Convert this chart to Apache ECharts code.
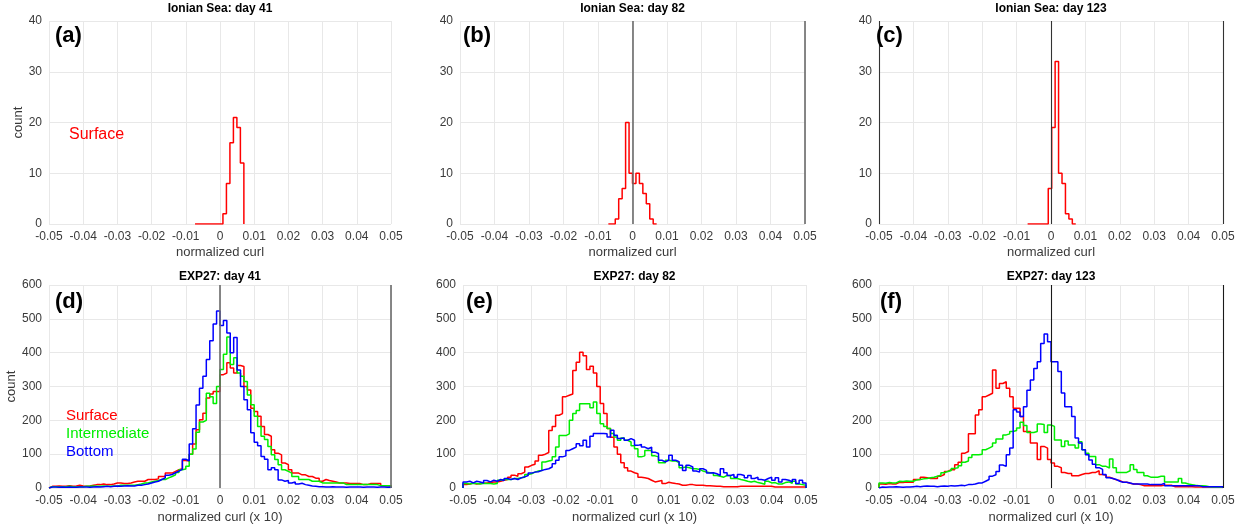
<!DOCTYPE html>
<html>
<head>
<meta charset="utf-8">
<script src="https://cdn.jsdelivr.net/npm/echarts@6/dist/echarts.min.js"></script>
<style>
  html, body { margin: 0; padding: 0; background: #fff; }
  #main { width: 1243px; height: 531px; }
</style>
</head>
<body>
<div id="main"></div>
<script>
// histogram counts, one value per bin (bins)
// top row: Ionian Sea, narrow range
var ionian41Start = -0.0073, ionian41Width = 0.00102;
var ionian41 = [0, 0, 0, 0, 0, 0, 0, 0, 2, 8, 16, 21, 19, 12];
var ionian82Start = -0.0070, ionian82Width = 0.001;
var ionian82 = [0, 0, 1, 5, 7, 20, 10, 8, 10, 8, 6, 4, 1, 0];
var ionian123Start = -0.0068, ionian123Width = 0.001;
var ionian123 = [0, 0, 0, 0, 0, 0, 7, 19, 32, 10, 8, 2, 1, 0];

// bottom row: EXP27, 100 bins of 0.001 from -0.05 to 0.05
var expStart = -0.05, expWidth = 0.001;

var d41Surface = [5,5,6,5,5,7,5,6,8,6, 5,6,8,10,10,12,10,10,12,15, 15,13,13,15,18,20,20,20,25,25,
  25,27,34,34,44,44,49,54,57,81, 80,100,130,172,202,221,266,278,285,285,
  335,340,370,355,340,362,359,300,290,236, 226,212,182,158,153,113,103,98,74,69,
  54,44,44,39,39,34,34,29,29,20, 25,22,20,18,15,15,15,13,13,13, 13,10,10,13,13,13,13,7,7,7];
var d41Inter = [4,4,3,4,4,5,4,3,4,4, 5,5,6,5,5,6,5,5,6,5, 8,8,8,8,8,10,12,15,15,18,
  20,22,25,25,30,34,39,46,54,56, 64,100,115,165,195,200,280,270,250,300,
  350,395,446,365,385,340,330,315,275,246, 212,182,153,143,123,98,84,69,54,49,
  44,34,34,25,25,25,20,20,20,15, 15,15,15,15,15,15,10,10,10,10, 10,10,10,10,10,10,7,7,7,7];
var d41Bottom = [3,3,2,3,2,3,2,2,3,3, 3,2,3,4,3,4,5,4,5,6, 5,6,7,6,6,8,8,10,12,15,
  18,20,25,30,38,40,45,50,55,85, 80,130,175,245,295,330,380,435,485,523,
  480,495,458,400,445,349,300,261,231,163, 135,125,93,85,54,60,54,24,20,22,
  15,18,12,14,10,8,6,5,4,4, 3,3,4,3,3,3,2,3,3,3, 3,2,3,3,3,2,3,3,2,3];

var d82Surface = [10,12,15,12,13,14,15,16,18,18, 20,23,25,32,38,35,42,47,62,67,
  70,80,97,100,105,170,182,215,220,270, 274,278,347,372,401,391,350,360,340,300,
  250,220,176,150,121,100,75,60,50,45,
  42,32,30,28,23,18,20,22,13,17, 15,13,12,8,8,10,10,8,8,8, 7,7,6,5,5,4,4,4,4,4,
  5,5,5,5,5,5,5,5,5,5, 3,3,3,3,3,3,3,3,3,3];
var d82Inter = [13,12,14,13,12,14,13,13,12,13, 23,25,25,25,28,28,30,32,40,42,
  47,50,52,77,80,82,92,121,155,155, 160,200,220,229,249,249,249,237,254,220,
  190,182,176,161,151,141,148,141,136,125,
  116,92,95,111,111,95,92,75,75,82, 80,80,75,60,62,60,57,57,55,50, 47,45,45,37,35,32,37,37,28,28,
  25,23,20,18,20,16,14,11,20,15, 16,12,12,16,18,14,20,12,10,8];
var d82Bottom = [18,20,15,20,18,15,22,18,23,20, 25,22,28,25,28,25,30,33,37,44,
  47,48,52,55,57,62,72,82,92,95, 111,116,121,131,125,141,121,153,161,161,
  161,160,151,171,156,146,148,141,146,141,
  126,129,121,116,121,106,102,82,77,82, 97,82,78,67,52,67,62,50,47,57, 52,44,45,42,37,57,45,37,40,32,
  40,37,30,37,28,32,25,23,28,32, 23,30,18,25,23,18,25,13,23,15];

var d123Surface = [12,11,13,12,12,17,16,18,17,17, 25,25,32,30,28,28,28,35,40,49,
  54,54,69,76,103,108,160,160,216,231, 270,275,280,349,295,309,314,295,270,236,
  236,211,167,167,133,133,84,123,118,84,
  74,64,60,46,43,43,36,36,40,43, 43,46,46,51,40,38,32,28,24,22, 17,17,14,12,12,10,7,7,7,7,
  7,7,8,8,8,4,4,4,4,4, 4,3,3,3,3,3,3,3,3,3];
var d123Inter = [15,14,16,15,15,20,19,21,20,20, 24,25,27,28,30,32,35,38,45,49,
  52,58,60,66,76,80,90,98,98,100, 113,118,123,133,145,145,157,160,167,170,
  177,194,185,164,164,167,189,188,164,186,
  182,142,142,123,139,127,127,118,137,113, 103,93,93,69,64,64,59,86,60,46, 46,46,51,69,55,46,46,36,32,32,
  32,35,35,18,18,18,18,28,15,12, 10,8,7,7,6,4,3,3,3,3];
var d123Bottom = [3,2,3,3,4,3,2,3,3,4, 5,4,5,6,5,5,4,5,6,5, 7,6,7,8,7,10,10,12,15,15,
  20,25,35,39,49,68,64,98,118,231, 225,211,240,289,319,353,373,427,455,432,
  373,373,344,281,240,240,211,148,133,113, 98,83,70,60,55,40,30,28,25,20, 17,17,15,12,12,12,12,12,10,10,
  10,10,14,7,7,7,7,7,7,7, 7,7,7,4,4,4,4,4,4,4];

var xTicks = [-0.05, 0.05, 0.01];
var topTitles = ['Ionian Sea: day 41', 'Ionian Sea: day 82', 'Ionian Sea: day 123'];
var bottomTitles = ['EXP27: day 41', 'EXP27: day 82', 'EXP27: day 123'];
var panelLetters = ['(a)', '(b)', '(c)', '(d)', '(e)', '(f)'];
var layerNames = ['Surface', 'Intermediate', 'Bottom'];
var layerColors = ['#ff0000', '#00ee00', '#0000ff'];

var FONT = '"Liberation Sans", Arial, Helvetica, sans-serif';

// stairs outline of a histogram: left edges + counts, closed to zero at both ends
function stairs(start, width, counts) {
    var pts = [[start, 0]];
    for (var i = 0; i < counts.length; i++) {
        pts.push([start + i * width, counts[i]]);
    }
    var end = start + counts.length * width;
    pts.push([end, counts[counts.length - 1]]);
    pts.push([end, 0]);
    return pts;
}

var grids = [
    {left: 49, top: 21, width: 342, height: 203},
    {left: 460, top: 21, width: 345, height: 203},
    {left: 879, top: 21, width: 344, height: 203},
    {left: 49, top: 285, width: 342, height: 203},
    {left: 463, top: 285, width: 343, height: 203},
    {left: 879, top: 285, width: 344, height: 203}
];
// dark reference lines per panel: [x positions, colour, width]
var refLines = [
    null,
    [[0, 0.05], '#6a6a6a', 1.6],
    [[-0.05, 0, 0.05], '#333333', 1.1],
    [[0, 0.05], '#6a6a6a', 1.6],
    null,
    [[0, 0.05], '#1a1a1a', 1.1]
];

var xAxes = [], yAxes = [], series = [], graphics = [];
grids.forEach(function (g, i) {
    g.outerBoundsMode = 'none';
    var bottomRow = i >= 3;
    xAxes.push({
        type: 'value', gridIndex: i,
        min: xTicks[0], max: xTicks[1], interval: xTicks[2],
        name: bottomRow ? 'normalized curl (x 10)' : 'normalized curl',
        nameLocation: 'middle', nameGap: bottomRow ? 23 : 22,
        nameTextStyle: {color: '#3a3a3a', fontSize: 13, fontFamily: FONT},
        axisLine: {show: false},
        axisTick: {show: false},
        axisLabel: {
            color: '#3a3a3a', fontSize: 12, fontFamily: FONT, margin: 7,
            showMinLabel: true, showMaxLabel: true, hideOverlap: false,
            formatter: function (v) { return String(Math.round(v * 100) / 100); }
        },
        splitLine: {show: true, lineStyle: {color: '#e8e8e8', width: 1}}
    });
    yAxes.push({
        type: 'value', gridIndex: i,
        min: 0, max: bottomRow ? 600 : 40, interval: bottomRow ? 100 : 10,
        name: (i % 3 === 0) ? 'count' : '',
        nameLocation: 'middle', nameGap: 24, nameRotate: 90,
        nameTextStyle: {color: '#3a3a3a', fontSize: 13, fontFamily: FONT},
        axisLine: {show: false},
        axisTick: {show: false},
        axisLabel: {color: '#3a3a3a', fontSize: 12, fontFamily: FONT, margin: 7},
        splitLine: {show: true, lineStyle: {color: '#e8e8e8', width: 1}}
    });

    // panel title
    graphics.push({
        type: 'text',
        x: g.left + g.width / 2, y: bottomRow ? 277 : 9,
        style: {
            text: bottomRow ? bottomTitles[i - 3] : topTitles[i],
            font: 'bold 12px ' + FONT, fill: '#000',
            align: 'center', verticalAlign: 'middle',
            textAlign: 'center', textVerticalAlign: 'middle'
        }
    });
});

var letterPos = [[55, 36], [463, 36], [876, 36], [55, 302], [466, 302], [880, 302]];
letterPos.forEach(function (p, i) {
    graphics.push({
        type: 'text', x: p[0], y: p[1], z: 10,
        style: {
            text: panelLetters[i], font: 'bold 22px ' + FONT, fill: '#000',
            align: 'left', verticalAlign: 'middle',
            textAlign: 'left', textVerticalAlign: 'middle'
        }
    });
});

// in-plot legend labels
graphics.push({
    type: 'text', x: 69, y: 135, z: 10,
    style: {text: 'Surface', font: '16px ' + FONT, fill: layerColors[0],
        align: 'left', verticalAlign: 'middle', textAlign: 'left', textVerticalAlign: 'middle'}
});
layerNames.forEach(function (name, k) {
    graphics.push({
        type: 'text', x: 66, y: 416 + k * 18, z: 10,
        style: {text: name, font: '15px ' + FONT, fill: layerColors[k],
            align: 'left', verticalAlign: 'middle', textAlign: 'left', textVerticalAlign: 'middle'}
    });
});

function histSeries(idx, name, color, pts) {
    return {
        type: 'line', name: name, xAxisIndex: idx, yAxisIndex: idx,
        data: pts, step: 'end', showSymbol: false, symbol: 'none',
        lineStyle: {color: color, width: 1.5}, silent: true, z: 3
    };
}

series.push(histSeries(0, 'Surface', layerColors[0], stairs(ionian41Start, ionian41Width, ionian41)));
series.push(histSeries(1, 'Surface', layerColors[0], stairs(ionian82Start, ionian82Width, ionian82)));
series.push(histSeries(2, 'Surface', layerColors[0], stairs(ionian123Start, ionian123Width, ionian123)));

var expPanels = [
    [d41Surface, d41Inter, d41Bottom],
    [d82Surface, d82Inter, d82Bottom],
    [d123Surface, d123Inter, d123Bottom]
];
expPanels.forEach(function (sets, p) {
    sets.forEach(function (counts, k) {
        series.push(histSeries(3 + p, layerNames[k], layerColors[k], stairs(expStart, expWidth, counts)));
    });
});

// dark vertical reference lines
refLines.forEach(function (r, i) {
    if (!r) return;
    series.push({
        type: 'line', xAxisIndex: i, yAxisIndex: i, data: [], silent: true, z: 2,
        markLine: {
            silent: true, symbol: 'none', label: {show: false}, animation: false,
            lineStyle: {color: r[1], width: r[2], type: 'solid'},
            data: r[0].map(function (x) { return {xAxis: x}; })
        }
    });
});

var myChart = echarts.init(document.getElementById('main'), null, {renderer: 'canvas'});
myChart.setOption({
    animation: false,
    backgroundColor: '#ffffff',
    grid: grids,
    xAxis: xAxes,
    yAxis: yAxes,
    series: series,
    graphic: graphics
});
</script>
</body>
</html>
